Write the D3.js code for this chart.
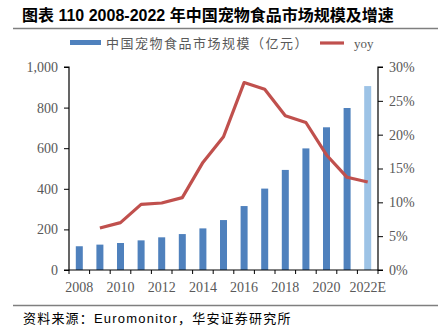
<!DOCTYPE html>
<html>
<head>
<meta charset="utf-8">
<script src="https://cdn.jsdelivr.net/npm/d3@7"></script>
<style>
  body { margin: 0; background: #fff; }
  svg text { font-family: "Liberation Serif", "Noto Sans CJK SC", serif; }
</style>
</head>
<body>
<div id="chart"></div>
<script>
var years = ["2008","2009","2010","2011","2012","2013","2014","2015","2016","2017","2018","2019","2020","2021","2022E"];
var market = [117, 125, 133, 146, 161, 177, 205, 246, 315, 401, 493, 599, 703, 798, 906];
var yoy = [null, 6.2, 7.0, 9.7, 9.9, 10.7, 15.9, 19.7, 27.7, 26.7, 22.8, 21.8, 17.0, 13.7, 13.0];
var leftTicks = [0, 200, 400, 600, 800, 1000];
var rightTicks = [0, 5, 10, 15, 20, 25, 30];
var xLabels = ["2008","2010","2012","2014","2016","2018","2020","2022E"];

var width = 438, height = 333;
var plotL = 69, plotR = 378, plotT = 67, plotB = 270;

var svg = d3.select("#chart").append("svg")
  .attr("width", width)
  .attr("height", height);

// title and rules
svg.append("text")
  .attr("x", 22).attr("y", 21)
  .style("font-family", "'Liberation Sans', 'Noto Sans CJK SC', sans-serif")
  .style("font-weight", "bold")
  .style("font-size", "16px")
  .attr("fill", "#000")
  .text("图表 110 2008-2022 年中国宠物食品市场规模及增速");

svg.append("line").attr("x1", 13).attr("x2", 438).attr("y1", 28.5).attr("y2", 28.5)
  .attr("stroke", "#7f7f7f").attr("stroke-width", 1.5);
svg.append("line").attr("x1", 13).attr("x2", 438).attr("y1", 305.5).attr("y2", 305.5)
  .attr("stroke", "#7f7f7f").attr("stroke-width", 1.5);

svg.append("text")
  .attr("x", 23).attr("y", 323)
  .style("font-family", "'Liberation Sans', 'Noto Sans CJK SC', sans-serif")
  .style("font-size", "13px")
  .style("letter-spacing", "1.2px")
  .attr("fill", "#000")
  .text("资料来源：Euromonitor，华安证券研究所");

var x = d3.scaleBand().domain(years).range([plotL, plotR]).padding(0);
var y = d3.scaleLinear().domain([0, 1000]).range([plotB, plotT]);
var y2 = d3.scaleLinear().domain([0, 30]).range([plotB, plotT]);

// bars
svg.selectAll("rect.bar").data(market).enter().append("rect")
  .attr("class", "bar")
  .attr("x", function(d, i) { return x(years[i]) + x.bandwidth() / 2 - 3.5; })
  .attr("width", 7)
  .attr("y", function(d) { return y(d); })
  .attr("height", function(d) { return plotB - y(d); })
  .attr("fill", function(d, i) { return years[i] == "2022E" ? "#9dc3e6" : "#4f81bd"; });

// yoy line
var line = d3.line()
  .defined(function(d) { return d != null; })
  .x(function(d, i) { return x(years[i]) + x.bandwidth() / 2; })
  .y(function(d) { return y2(d); });

svg.append("path")
  .datum(yoy)
  .attr("d", line)
  .attr("fill", "none")
  .attr("stroke", "#c0504d")
  .attr("stroke-width", 3.2)
  .attr("stroke-linejoin", "round");

// axes
var axisColor = "#000", labelColor = "#595959";

var gl = svg.append("g").attr("transform", "translate(" + plotL + ",0)")
  .call(d3.axisLeft(y).tickValues(leftTicks).tickSize(5).tickPadding(6).tickFormat(d3.format(",")));
var gr = svg.append("g").attr("transform", "translate(" + plotR + ",0)")
  .call(d3.axisRight(y2).tickValues(rightTicks).tickSize(5).tickPadding(6).tickFormat(function(d) { return d + "%"; }));

var gx = svg.append("g").attr("transform", "translate(0," + plotB + ")");
gx.append("line").attr("x1", plotL).attr("x2", plotR).attr("stroke", axisColor);
gx.selectAll("line.tick").data(years.concat(["end"])).enter().append("line")
  .attr("class", "tick")
  .attr("x1", function(d, i) { return plotL + i * x.bandwidth(); })
  .attr("x2", function(d, i) { return plotL + i * x.bandwidth(); })
  .attr("y1", 0).attr("y2", 4)
  .attr("stroke", axisColor);
gx.selectAll("text").data(xLabels).enter().append("text")
  .attr("x", function(d) { return x(d) + x.bandwidth() / 2; })
  .attr("y", 22)
  .attr("text-anchor", "middle")
  .style("font-size", "14px")
  .attr("fill", labelColor)
  .text(function(d) { return d; });

[gl, gr].forEach(function(g) {
  g.select(".domain").attr("stroke", axisColor).attr("stroke-width", 1.2);
  g.selectAll(".tick line").attr("stroke", axisColor);
  g.selectAll(".tick text").style("font-size", "14px").attr("fill", labelColor)
    .style("font-family", "'Liberation Serif', serif");
});
gl.select(".domain").attr("d", "M-5," + plotT + "H0V" + plotB + "H-5");
gr.select(".domain").attr("d", "M5," + plotT + "H0V" + plotB + "H5");

// legend
var lg = svg.append("g");
lg.append("rect").attr("x", 70).attr("y", 40).attr("width", 31).attr("height", 5).attr("fill", "#4f81bd");
lg.append("text").attr("x", 106).attr("y", 48)
  .style("font-size", "13px").attr("fill", labelColor)
  .style("font-family", "'Noto Sans CJK SC', sans-serif")
  .style("letter-spacing", "1.5px")
  .text("中国宠物食品市场规模（亿元）");
lg.append("line").attr("x1", 320).attr("x2", 344).attr("y1", 43).attr("y2", 43)
  .attr("stroke", "#c0504d").attr("stroke-width", 3.2);
lg.append("text").attr("x", 354).attr("y", 48)
  .style("font-size", "13px").attr("fill", labelColor)
  .text("yoy");
</script>
</body>
</html>
